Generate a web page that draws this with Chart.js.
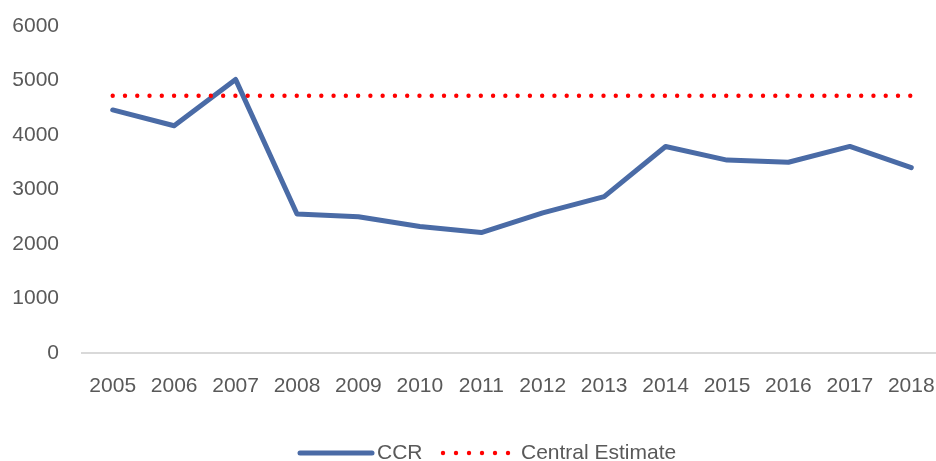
<!DOCTYPE html>
<html>
<head>
<meta charset="utf-8">
<script src="https://cdn.jsdelivr.net/npm/chart.js@4"></script>
<style>
  html, body { margin: 0; padding: 0; background: #fff; overflow: hidden; }
  #wrap { width: 936px; height: 461px; overflow: hidden; }
</style>
</head>
<body>
<div id="wrap"><canvas id="myChart" width="942" height="461"></canvas></div>
<script>
const years = ['2005', '2006', '2007', '2008', '2009', '2010', '2011',
  '2012', '2013', '2014', '2015', '2016', '2017', '2018'];
const ccr = [4460, 4170, 5020, 2550, 2500, 2320, 2210,
  2570, 2870, 3790, 3540, 3500, 3790, 3400];
const centralEstimate = [4720, 4720, 4720, 4720, 4720, 4720, 4720,
  4720, 4720, 4720, 4720, 4720, 4720, 4720];
const yTicks = [0, 1000, 2000, 3000, 4000, 5000, 6000];

const BLUE = '#4a6ba6';
const RED = '#ff0000';
const TEXT = '#595959';
const FONT = '"Liberation Sans", Arial, sans-serif';

// легенда рисуется вручную: линия и точки как в оригинале
const legendPlugin = {
  id: 'customLegend',
  afterDraw(chart) {
    const ctx = chart.ctx;
    const y = 453;
    ctx.save();
    ctx.lineCap = 'round';

    ctx.strokeStyle = BLUE;
    ctx.lineWidth = 5;
    ctx.beginPath();
    ctx.moveTo(300, y);
    ctx.lineTo(372, y);
    ctx.stroke();

    ctx.fillStyle = RED;
    for (let i = 0; i < 6; i++) {
      ctx.beginPath();
      ctx.arc(443 + i * 13, y, 2.2, 0, Math.PI * 2);
      ctx.fill();
    }

    ctx.fillStyle = TEXT;
    ctx.font = '21px ' + FONT;
    ctx.textBaseline = 'middle';
    ctx.fillText('CCR', 377, y);
    ctx.fillText('Central Estimate', 521, y);
    ctx.restore();
  }
};

new Chart(document.getElementById('myChart').getContext('2d'), {
  type: 'line',
  data: {
    labels: years,
    datasets: [{
      label: 'CCR',
      data: ccr,
      borderColor: BLUE,
      borderWidth: 5,
      borderCapStyle: 'round',
      borderJoinStyle: 'round',
      pointRadius: 0,
      tension: 0,
      fill: false,
      order: 2,
    }, {
      label: 'Central Estimate',
      data: centralEstimate,
      borderColor: RED,
      borderWidth: 4.4,
      borderDash: [0, 12.27],
      borderCapStyle: 'round',
      pointRadius: 0,
      tension: 0,
      fill: false,
      order: 1,
    }]
  },
  options: {
    responsive: false,
    animation: false,
    layout: { padding: { top: 26, right: 0, bottom: 48, left: 0 } },
    plugins: {
      legend: { display: false },
      tooltip: { enabled: false },
    },
    scales: {
      x: {
        offset: true,
        grid: { display: false, drawTicks: false },
        border: { display: true, color: '#d9d9d9', width: 2 },
        ticks: {
          color: TEXT,
          font: { family: FONT, size: 21 },
          padding: 21,
          maxRotation: 0,
          autoSkip: false,
        },
        afterFit(scale) {
          scale.height = 60;
          scale.paddingLeft = 0;
          scale.paddingRight = 0;
        },
      },
      y: {
        min: 0,
        max: 6000,
        grid: { display: false, drawTicks: false },
        border: { display: false },
        afterBuildTicks(scale) { scale.ticks = yTicks.map(v => ({ value: v })); },
        ticks: {
          color: TEXT,
          font: { family: FONT, size: 21 },
          padding: 23,
          callback: v => String(v),
        },
        afterFit(scale) {
          scale.width = 82;
          scale.paddingTop = 0;
          scale.paddingBottom = 0;
        },
      }
    }
  },
  plugins: [legendPlugin]
});
</script>
</body>
</html>
